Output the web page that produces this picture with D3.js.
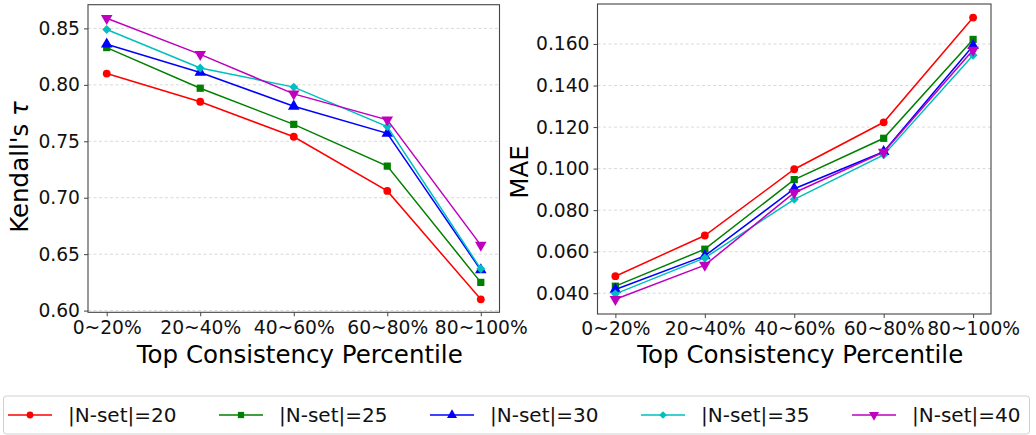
<!DOCTYPE html>
<html lang="en">
  <head>
    <meta charset="utf-8">
    <title>Kendall's tau and MAE by consistency percentile</title>
    <script src="https://d3js.org/d3.v7.min.js"></script>
    <style>
      body { margin: 0; background: #fff; }
      svg { font-family: "DejaVu Sans", sans-serif; display: block; }
      .grid line { stroke: #cfcfcf; stroke-width: 0.8; stroke-dasharray: 3,2.5; }
      .spine { fill: none; stroke: #444; stroke-width: 1.1; }
    </style>
  </head>
  <body>
    <svg></svg>
    <script>
    // categories
    const percentiles = ['0~20%', '20~40%', '40~60%', '60~80%', '80~100%']
    const seriesNames = ['|N-set|=20', '|N-set|=25', '|N-set|=30', '|N-set|=35', '|N-set|=40']

    // Kendall's tau (left panel)
    const tau20 = [0.810, 0.785, 0.754, 0.706, 0.610]
    const tau25 = [0.833, 0.797, 0.765, 0.728, 0.625]
    const tau30 = [0.836, 0.811, 0.781, 0.757, 0.636]
    const tau35 = [0.849, 0.815, 0.798, 0.763, 0.637]
    const tau40 = [0.859, 0.827, 0.792, 0.769, 0.658]

    // MAE (right panel)
    const mae20 = [0.0482, 0.0678, 0.0997, 0.1223, 0.1727]
    const mae25 = [0.0434, 0.0612, 0.0947, 0.1146, 0.1622]
    const mae30 = [0.0418, 0.0580, 0.0903, 0.1081, 0.1592]
    const mae35 = [0.0397, 0.0570, 0.0852, 0.1066, 0.1546]
    const mae40 = [0.0371, 0.0535, 0.0884, 0.1079, 0.1571]

    // tick labels
    const tauTicks = [0.60, 0.65, 0.70, 0.75, 0.80, 0.85]
    const maeTicks = [0.040, 0.060, 0.080, 0.100, 0.120, 0.140, 0.160]

    const colors = ['#ff0000', '#008000', '#0000ff', '#00bfbf', '#bf00bf']
    const markers = [
      { type: d3.symbolCircle, size: 48, rot: 0 },
      { type: d3.symbolSquare, size: 52, rot: 0 },
      { type: d3.symbolTriangle, size: 58, rot: 0 },
      { type: d3.symbolSquare, size: 40, rot: 45 },
      { type: d3.symbolTriangle, size: 58, rot: 180 }
    ]

    const svg = d3.select('svg')
      .attr('width', 1036)
      .attr('height', 435)

    function panel(opts) {
      const x = d3.scalePoint()
        .domain(percentiles)
        .range([opts.left, opts.right])
        .padding(0.2)

      const y = d3.scaleLinear()
        .domain(opts.yDomain)
        .range([opts.bottom, opts.top])

      const g = svg.append('g')

      // grid
      g.append('g')
        .attr('class', 'grid')
        .selectAll('line')
        .data(opts.ticks)
        .join('line')
          .attr('x1', opts.left)
          .attr('x2', opts.right)
          .attr('y1', d => y(d))
          .attr('y2', d => y(d))

      // y axis
      const yAxis = g.append('g')
        .attr('transform', `translate(${opts.left},0)`)
        .call(d3.axisLeft(y).tickValues(opts.ticks).tickFormat(d3.format(opts.fmt)).tickSize(4).tickPadding(4))
      yAxis.select('.domain').remove()

      // x axis
      const xAxis = g.append('g')
        .attr('transform', `translate(0,${opts.bottom})`)
        .call(d3.axisBottom(x).tickSize(4).tickPadding(4))
      xAxis.select('.domain').remove()

      g.selectAll('.tick text')
        .attr('font-size', '18.7px')
        .attr('font-family', '"DejaVu Sans", sans-serif')
        .attr('fill', '#111')
      g.selectAll('.tick line').attr('stroke', '#444')

      // frame
      g.append('rect')
        .attr('class', 'spine')
        .attr('x', opts.left)
        .attr('y', opts.top)
        .attr('width', opts.right - opts.left)
        .attr('height', opts.bottom - opts.top)

      const line = d3.line()
        .x((d, i) => x(percentiles[i]))
        .y(d => y(d))

      opts.series.forEach((s, k) => {
        g.append('path')
          .datum(s)
          .attr('fill', 'none')
          .attr('stroke', colors[k])
          .attr('stroke-width', 1.5)
          .attr('d', line)

        g.selectAll(null)
          .data(s)
          .join('path')
            .attr('d', d3.symbol(markers[k].type, markers[k].size))
            .attr('fill', colors[k])
            .attr('transform', (d, i) => `translate(${x(percentiles[i])},${y(d)}) rotate(${markers[k].rot})`)
      })

      // x label
      g.append('text')
        .attr('x', (opts.left + opts.right) / 2 + 6)
        .attr('y', 363)
        .attr('text-anchor', 'middle')
        .attr('font-size', '24.5px')
        .text('Top Consistency Percentile')

      // y label
      const yl = g.append('text')
        .attr('transform', `translate(${opts.ylx},${opts.yly}) rotate(-90)`)
        .attr('text-anchor', 'middle')
        .attr('font-size', '24.5px')
      yl.append('tspan').text(opts.ylabel)
      if (opts.ylabelMath) {
        yl.append('tspan').attr('font-style', 'italic').text(opts.ylabelMath)
      }
    }

    panel({
      left: 88, right: 499.5, top: 4.7, bottom: 312.3,
      yDomain: [0.5985, 0.871],
      ticks: tauTicks, fmt: '.2f',
      series: [tau20, tau25, tau30, tau35, tau40],
      ylabel: 'Kendall\'s ', ylabelMath: 'τ',
      ylx: 28, yly: 167
    })

    panel({
      left: 597.5, right: 991, top: 4, bottom: 314,
      yDomain: [0.0300, 0.17925],
      ticks: maeTicks, fmt: '.3f',
      series: [mae20, mae25, mae30, mae35, mae40],
      ylabel: 'MAE',
      ylx: 528, yly: 172
    })

    // legend
    const legend = svg.append('g')
    legend.append('rect')
      .attr('x', 3.5)
      .attr('y', 396)
      .attr('width', 1026)
      .attr('height', 38)
      .attr('rx', 3)
      .attr('fill', '#fff')
      .attr('stroke', '#d0d0d0')
      .attr('stroke-width', 1)

    const item = legend.selectAll('g.item')
      .data(seriesNames)
      .join('g')
        .attr('class', 'item')
        .attr('transform', (d, i) => `translate(${8 + i * 211},415)`)

    item.append('line')
      .attr('x1', 0).attr('x2', 44)
      .attr('stroke', (d, i) => colors[i])
      .attr('stroke-width', 1.5)

    item.append('path')
      .attr('d', (d, i) => d3.symbol(markers[i].type, markers[i].size * 0.75)())
      .attr('fill', (d, i) => colors[i])
      .attr('transform', (d, i) => `translate(22,0) rotate(${markers[i].rot})`)

    item.append('text')
      .attr('x', 60)
      .attr('y', 7)
      .attr('font-size', '20px')
      .attr('fill', '#111')
      .text(d => d)
  </script>
  </body>
</html>
